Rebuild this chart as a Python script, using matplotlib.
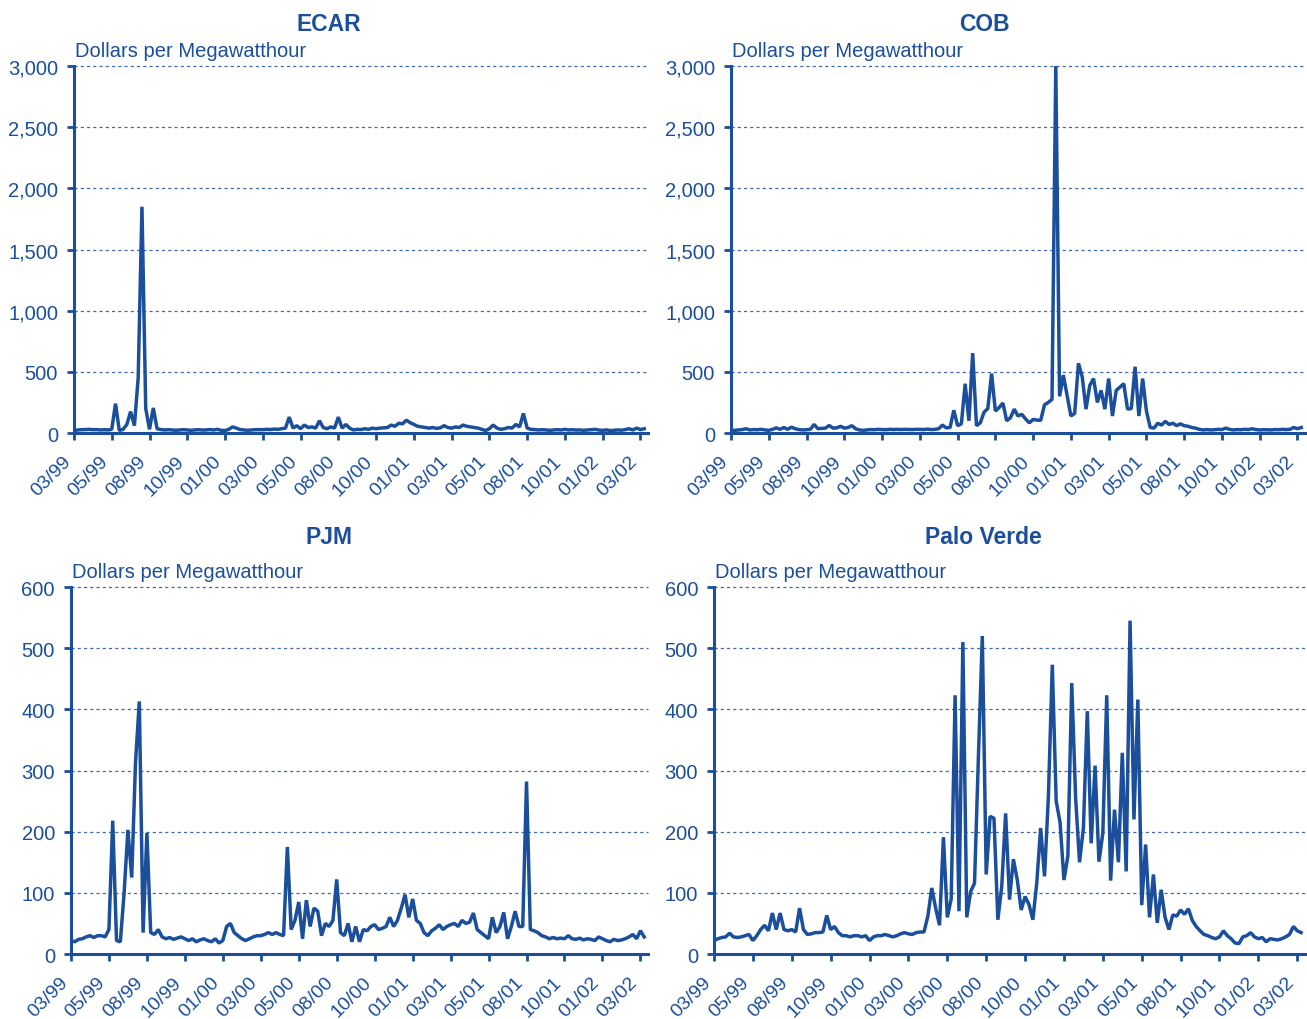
import numpy as np
import matplotlib
matplotlib.use('Agg')
import matplotlib.pyplot as plt
from matplotlib.transforms import ScaledTranslation

plt.rcParams['font.family'] = ['Liberation Sans', 'DejaVu Sans']

#------- Data -------
# x axis: evenly spaced tick labels, 10 readings between two ticks
tick_labels = ['03/99', '05/99', '08/99', '10/99', '01/00', '03/00', '05/00', '08/00',
               '10/00', '01/01', '03/01', '05/01', '08/01', '10/01', '01/02', '03/02']
pts_per_tick = 10

# Dollars per Megawatthour
ecar = [20, 25, 27, 28, 30, 27, 28, 25, 27, 25,
        30, 240, 20, 30, 70, 175, 60, 450, 1850, 200,
        30, 205, 35, 28, 25, 27, 25, 22, 25, 27,
        25, 22, 25, 27, 24, 25, 28, 25, 30, 22,
        20, 30, 50, 40, 28, 25, 22, 25, 27, 28,
        27, 30, 28, 32, 30, 35, 40, 130, 40, 60,
        35, 65, 45, 50, 40, 100, 45, 35, 50, 40,
        130, 40, 70, 40, 25, 30, 28, 35, 30, 40,
        35, 40, 42, 45, 65, 55, 80, 75, 105, 85,
        70, 55, 50, 45, 40, 45, 38, 42, 60, 45,
        40, 50, 45, 65, 55, 50, 45, 40, 30, 20,
        35, 65, 40, 30, 35, 45, 40, 70, 50, 160,
        40, 30, 28, 25, 27, 25, 22, 25, 27, 25,
        30, 25, 27, 24, 25, 22, 25, 27, 30, 24,
        22, 25, 20, 22, 25, 23, 28, 35, 25, 40,
        28, 35]

cob = [20, 22, 25, 28, 35, 25, 28, 27, 30, 25,
       22, 30, 42, 30, 45, 30, 48, 35, 28, 25,
       27, 30, 70, 35, 38, 40, 62, 40, 42, 55,
       40, 45, 60, 35, 25, 22, 25, 28, 27, 30,
       28, 27, 30, 28, 30, 28, 30, 29, 28, 30,
       30, 28, 32, 28, 30, 35, 65, 42, 45, 186,
       60, 75, 403, 100, 653, 60, 83, 170, 200, 486,
       180, 208, 245, 100, 125, 195, 139, 153, 115, 83,
       111, 106, 103, 230, 250, 275, 3000, 300, 473, 306,
       139, 160, 570, 459, 195, 389, 445, 250, 348, 195,
       445, 139, 348, 375, 403, 195, 200, 542, 139, 445,
       180, 45, 40, 80, 65, 95, 70, 80, 60, 75,
       60, 55, 45, 40, 30, 25, 28, 25, 27, 30,
       28, 40, 30, 25, 28, 27, 30, 28, 35, 28,
       25, 27, 26, 25, 28, 27, 30, 28, 30, 45,
       35, 45]

pjm = [22, 20, 24, 25, 28, 30, 27, 30, 30, 28,
       40, 218, 22, 20, 100, 203, 125, 313, 413, 35,
       198, 35, 32, 40, 28, 25, 27, 24, 26, 28,
       25, 22, 25, 20, 23, 25, 22, 20, 25, 18,
       22, 45, 50, 35, 30, 25, 22, 25, 28, 30,
       30, 32, 35, 32, 35, 32, 30, 175, 40, 55,
       85, 25, 88, 45, 75, 70, 30, 50, 45, 55,
       122, 35, 30, 50, 20, 45, 20, 40, 38, 45,
       48, 40, 42, 45, 60, 45, 55, 75, 97, 60,
       90, 55, 50, 35, 30, 38, 42, 48, 40, 45,
       48, 50, 45, 55, 50, 52, 67, 40, 35, 30,
       25, 60, 35, 45, 68, 25, 45, 70, 45, 45,
       282, 40, 38, 35, 30, 28, 25, 27, 25, 26,
       25, 30, 25, 24, 26, 23, 25, 24, 22, 28,
       25, 22, 20, 24, 22, 23, 25, 28, 32, 25,
       38, 28]

palo_verde = [22, 25, 27, 28, 34, 28, 27, 28, 30, 32,
              22, 30, 40, 47, 38, 67, 40, 67, 40, 38,
              40, 36, 75, 40, 32, 33, 35, 35, 36, 63,
              40, 45, 35, 30, 30, 28, 30, 30, 28, 30,
              22, 28, 30, 30, 32, 30, 28, 30, 33, 35,
              33, 32, 35, 36, 36, 62, 108, 75, 47, 191,
              60, 90, 423, 70, 510, 60, 102, 116, 323, 520,
              130, 225, 222, 56, 111, 230, 89, 155, 121, 72,
              94, 81, 56, 116, 206, 127, 258, 473, 250, 215,
              121, 160, 443, 255, 150, 206, 397, 181, 308, 151,
              198, 423, 120, 236, 150, 329, 135, 545, 220, 416,
              80, 179, 60, 130, 51, 105, 60, 40, 64, 62,
              72, 65, 74, 55, 45, 38, 32, 30, 27, 25,
              28, 38, 30, 25, 18, 17, 28, 30, 35, 28,
              25, 27, 20, 25, 24, 23, 25, 28, 32, 45,
              38, 35]

#------- Layout / style -------
blue = '#1b4f9c'
grid_blue = '#4169ad'

# name, series, axes rect, ymax, ystep, title x, title y (figure fraction)
panels = [
    ('ECAR', ecar, [0.0566, 0.5745, 0.4392, 0.3598], 3000, 500, 0.2513, 0.9696),
    ('COB', cob, [0.5593, 0.5745, 0.4392, 0.3598], 3000, 500, 0.7533, 0.9696),
    ('PJM', pjm, [0.0543, 0.0637, 0.4415, 0.3598], 600, 100, 0.2517, 0.4667),
    ('Palo Verde', palo_verde, [0.5463, 0.0637, 0.4522, 0.3598], 600, 100, 0.7525, 0.4667),
]

fig = plt.figure(figsize=(13.07, 10.2), dpi=100)
# nudge rotated date labels a little right, like the original
label_shift = ScaledTranslation(4 / 100, 0, fig.dpi_scale_trans)

for name, series, rect, ymax, ystep, tx, ty in panels:
    ax = fig.add_axes(rect)
    x = np.arange(len(series))
    ax.plot(x, series, color=blue, lw=2.5, solid_joinstyle='bevel', zorder=3)

    ax.set_xlim(0, 152)
    ax.set_ylim(0, ymax)

    yt = np.arange(0, ymax + 1, ystep)
    ax.set_yticks(yt)
    ax.set_yticklabels([f'{v:,.0f}' for v in yt])
    ax.set_xticks(np.arange(len(tick_labels)) * pts_per_tick)
    ax.set_xticklabels(tick_labels, rotation=45, ha='right')
    for lab in ax.get_xticklabels():
        lab.set_transform(lab.get_transform() + label_shift)

    # dotted gridlines (not at zero, the axis sits there)
    for v in yt[1:]:
        ax.axhline(v, color=grid_blue, lw=0.9, ls=(0, (2.5, 2.5)), zorder=1, clip_on=False)

    for s in ['top', 'right']:
        ax.spines[s].set_visible(False)
    for s in ['left', 'bottom']:
        ax.spines[s].set_color(blue)
        ax.spines[s].set_linewidth(2.2)

    ax.tick_params(axis='both', direction='out', length=5, width=2, color=blue,
                   labelcolor=blue)
    ax.tick_params(axis='y', labelsize=14.5, pad=6.5)
    ax.tick_params(axis='x', labelsize=14, pad=9)

    ax.text(0.002, 1 + 10.5 / 367, 'Dollars per Megawatthour', transform=ax.transAxes,
            color=blue, fontsize=14.5, ha='left', va='baseline')

    fig.text(tx, ty, name, ha='center', va='baseline', fontsize=16.5,
             fontweight='bold', color=blue)

fig.savefig('out.png', dpi=100)
